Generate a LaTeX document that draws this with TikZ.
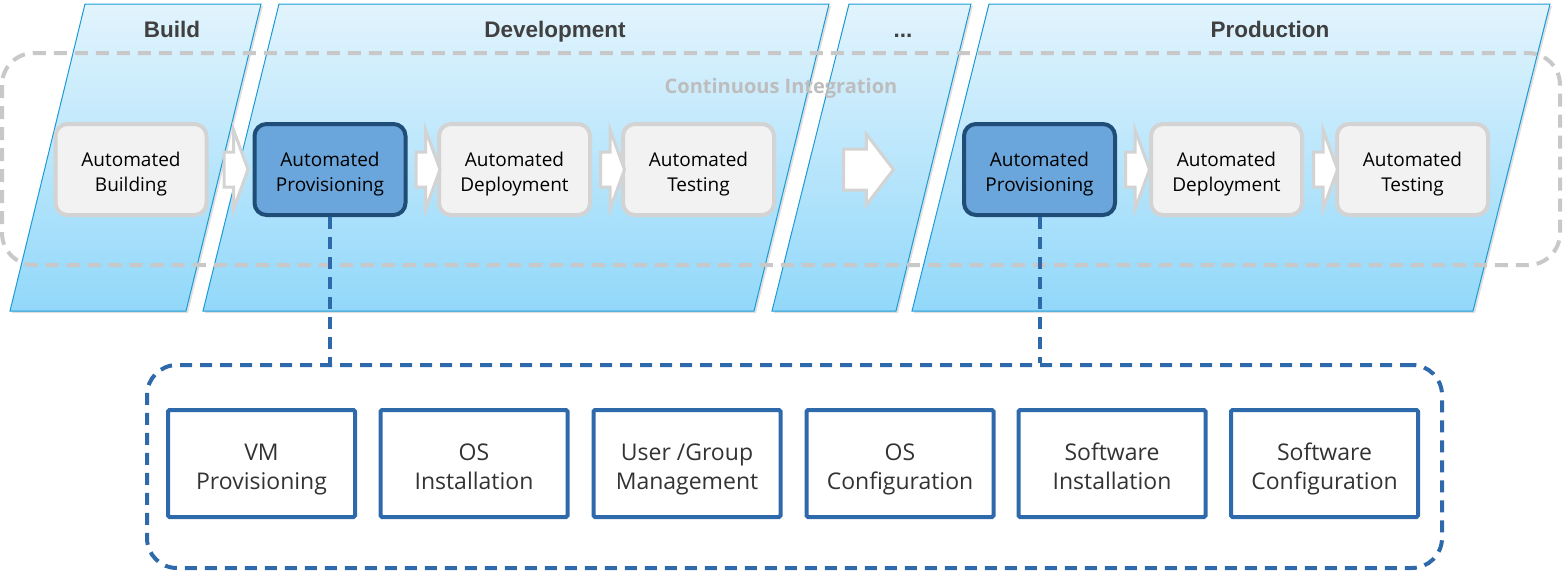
\documentclass[tikz,border=0pt]{standalone}
\usepackage{fontspec}
\setmainfont{Open Sans}
\newfontfamily\headfont{Liberation Sans}
\usetikzlibrary{shapes.arrows,shadows,calc}

\definecolor{paneltop}{HTML}{E2F4FD}
\definecolor{panelbot}{HTML}{92D8FA}
\definecolor{panelline}{HTML}{1A9BD6}
\definecolor{graybox}{HTML}{F2F2F2}
\definecolor{grayline}{HTML}{D3D3D3}
\definecolor{provfill}{HTML}{6AA5DB}
\definecolor{provline}{HTML}{1F4D78}
\definecolor{subline}{HTML}{2E6AAB}
\definecolor{headtext}{HTML}{404040}
\definecolor{citext}{HTML}{BDBDBD}
\definecolor{cigray}{HTML}{C8C8C8}

\begin{document}
\begin{tikzpicture}
[x=1pt, y=-1pt,
panel/.style={draw=panelline, line width=1pt, top color=paneltop, bottom color=panelbot,
  drop shadow={opacity=0.25, shadow xshift=2pt, shadow yshift=-2pt}},
titel/.style={anchor=base, font=\headfont\bfseries\fontsize{22.5}{27}\selectfont, text=headtext},
stepbox/.style={draw=grayline, fill=graybox, line width=4pt, rounded corners=12pt,
  minimum width=151pt, minimum height=91pt, align=center, text height=43pt, text depth=0pt,
  font=\fontsize{19}{24.5}\selectfont},
stepboxa/.style={stepbox, draw=provline, fill=provfill},
subbox/.style={draw=subline, fill=white, line width=4pt, rounded corners=1.5pt,
  minimum width=187pt, minimum height=107pt, align=center, text height=51pt, text depth=0pt,
  text=black!80, font=\fontsize{23}{29}\selectfont},
pfeil/.style={single arrow, anchor=tail, draw=grayline, fill=white, line width=3pt, inner xsep=0pt, inner ysep=16pt,
  single arrow head extend=22pt, single arrow tip angle=140, minimum height=24pt},
pfeila/.style={pfeil, inner ysep=19pt, single arrow head extend=15pt, single arrow tip angle=105, minimum height=50pt},
cirect/.style={draw=cigray, line width=4pt, dash pattern=on 13pt off 8pt, rounded corners=32pt},
grpbox/.style={draw=subline, line width=4pt, dash pattern=on 12pt off 8pt, rounded corners=30pt,
  minimum width=1295pt, minimum height=203pt},
lnk/.style={draw=subline, line width=4pt, dash pattern=on 12pt off 8pt},
]
\useasboundingbox (0,0) rectangle (1563,573);

% stages
\draw[panel] (85,4) -- (261,4) -- (186,311) -- (10,311) -- cycle;
\draw[panel] (279,4) -- (829,4) -- (754,311) -- (203,311) -- cycle;
\draw[panel] (849,4) -- (971,4) -- (896,311) -- (772,311) -- cycle;
\draw[panel] (989,4) -- (1550,4) -- (1473,311) -- (912,311) -- cycle;

\node[titel] (t1) at (172,37) {Build};
\node[titel] (t2) at (555,37) {Development};
\node[titel] (t3) at (903,37) {...};
\node[titel] (t4) at (1270,37) {Production};

% continuous integration
\draw[cirect] (2,53) rectangle (1560,265);
\node[anchor=base, text=citext, font=\bfseries\fontsize{20}{24}\selectfont] (ci) at (781,93) {Continuous Integration};

\node[stepbox] (bld) at (131,169.5) {Automated\\Building};
\node[stepboxa] (prv1) at (330,169.5) {Automated\\Provisioning};
\node[stepbox] (dep1) at (514.5,169.5) {Automated\\Deployment};
\node[stepbox] (tst1) at (698.5,169.5) {Automated\\Testing};
\node[stepboxa] (prv2) at (1039.5,169.5) {Automated\\Provisioning};
\node[stepbox] (dep2) at (1226.5,169.5) {Automated\\Deployment};
\node[stepbox] (tst2) at (1412.5,169.5) {Automated\\Testing};

\node[pfeil] (p1) at ($(bld.east)+(14,0)$) {};
\node[pfeil] (p2) at ($(prv1.east)+(7,0)$) {};
\node[pfeil] (p3) at ($(dep1.east)+(7,0)$) {};
\node[pfeila] (p4) at ($(tst1.east)+(66,0)$) {};
\node[pfeil] (p5) at ($(prv2.east)+(7,0)$) {};
\node[pfeil] (p6) at ($(dep2.east)+(8,0)$) {};

% provisioning steps
\node[grpbox] (grp) at (794.5,466.5) {};
\draw[lnk] (prv1.south) -- (prv1.south |- grp.north);
\draw[lnk] (prv2.south) -- (prv2.south |- grp.north);

\node[subbox] (s1) at (261.5,463.5) {VM\\Provisioning};
\node[subbox] (s2) at (474,463.5) {OS\\Installation};
\node[subbox] (s3) at (687,463.5) {User /Group\\Management};
\node[subbox] (s4) at (900,463.5) {OS\\Configuration};
\node[subbox] (s5) at (1112,463.5) {Software\\Installation};
\node[subbox] (s6) at (1324.5,463.5) {Software\\Configuration};
\end{tikzpicture}
\end{document}
